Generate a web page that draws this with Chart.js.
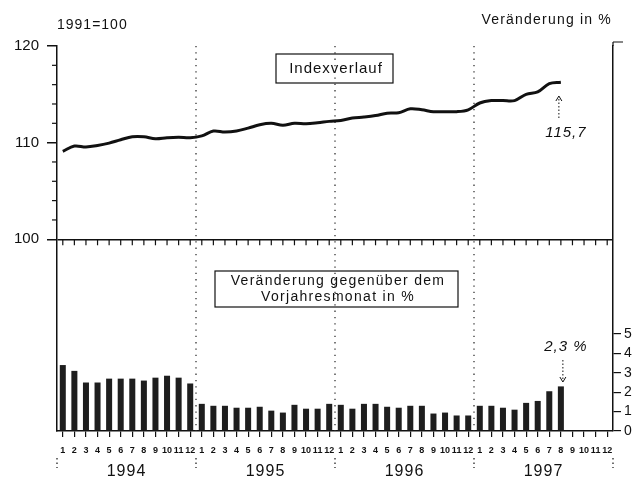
<!DOCTYPE html>
<html lang="de">
<head>
<meta charset="utf-8">
<title>Preisindex 1994-1997</title>
<script src="https://cdn.jsdelivr.net/npm/chart.js"></script>
<style>
  body { margin: 0; background: #fff; }
  #wrap { width: 639px; height: 480px; }
</style>
</head>
<body>
<div id="wrap"><canvas id="chart" width="639" height="480"></canvas></div>
<script>
  // months 1..12 for 1994-1997
  const years = ['1994', '1995', '1996', '1997'];
  const months = ['1','2','3','4','5','6','7','8','9','10','11','12'];
  const labels = years.flatMap(() => months);

  // Index 1991=100
  const indexValues = [
    109.1, 109.65, 109.55, 109.7, 109.95, 110.3, 110.6, 110.6, 110.4, 110.5, 110.55, 110.5,
    110.7, 111.2, 111.1, 111.2, 111.5, 111.85, 112.0, 111.8, 112.0, 111.95, 112.05, 112.2,
    112.3, 112.55, 112.65, 112.8, 113.05, 113.1, 113.5, 113.4, 113.2, 113.2, 113.2, 113.4,
    114.1, 114.35, 114.35, 114.35, 115.0, 115.25, 116.1, 116.25
  ];
  // Veränderung gegenüber dem Vorjahresmonat in %
  const changeValues = [
    3.4, 3.1, 2.5, 2.5, 2.7, 2.7, 2.7, 2.6, 2.75, 2.85, 2.75, 2.45,
    1.4, 1.3, 1.3, 1.2, 1.2, 1.25, 1.05, 0.95, 1.35, 1.15, 1.15, 1.4,
    1.35, 1.15, 1.4, 1.4, 1.25, 1.2, 1.3, 1.3, 0.9, 0.95, 0.8, 0.8,
    1.3, 1.3, 1.2, 1.1, 1.45, 1.55, 2.05, 2.3
  ];
  const indexTicks = [100, 110, 120];
  const indexMinorTicks = [102, 104, 106, 108, 112, 114, 116, 118];
  const changeTicks = [0, 1, 2, 3, 4, 5];

  const FONT = "'Liberation Sans', Arial, sans-serif";
  const INK = '#111';

  function spaced(ctx, text, x, y, spacing) {
    ctx.letterSpacing = spacing + 'px';
    ctx.fillText(text, x, y);
    ctx.letterSpacing = '0px';
  }

  const decor = {
    id: 'decor',
    beforeDatasetsDraw(chart) {
      const { ctx, chartArea: a, scales: { x } } = chart;
      ctx.save();
      ctx.strokeStyle = '#333';
      ctx.lineWidth = 1.3;
      ctx.setLineDash([1.3, 5]);
      for (let y = 1; y < years.length; y++) {
        const px = (x.getPixelForValue(y * 12 - 1) + x.getPixelForValue(y * 12)) / 2;
        ctx.beginPath();
        ctx.moveTo(px, a.top);
        ctx.lineTo(px, a.bottom);
        ctx.stroke();
      }
      ctx.restore();
    },
    afterDraw(chart) {
      const { ctx, chartArea: a, scales: { x, yIdx } } = chart;
      ctx.save();
      ctx.strokeStyle = INK;
      ctx.fillStyle = INK;

      // month ticks under the 100 line
      const y100 = yIdx.getPixelForValue(100);
      ctx.lineWidth = 1.2;
      for (let i = 0; i < labels.length; i++) {
        const px = x.getPixelForValue(i);
        ctx.beginPath();
        ctx.moveTo(px, y100);
        ctx.lineTo(px, y100 + 6);
        ctx.stroke();
      }
      // minor ticks on left axis
      indexMinorTicks.forEach(v => {
        const py = yIdx.getPixelForValue(v);
        ctx.beginPath();
        ctx.moveTo(a.left - 5, py);
        ctx.lineTo(a.left, py);
        ctx.stroke();
      });
      // cap on right axis
      ctx.beginPath();
      ctx.moveTo(a.right, a.top - 4);
      ctx.lineTo(a.right, a.top);
      ctx.moveTo(a.right, a.top - 4);
      ctx.lineTo(a.right + 10, a.top - 4);
      ctx.stroke();

      // year labels and separators
      ctx.font = '16px ' + FONT;
      ctx.textAlign = 'center';
      ctx.textBaseline = 'middle';
      ctx.setLineDash([1.5, 3]);
      for (let y = 0; y <= years.length; y++) {
        let px;
        if (y === 0) px = a.left;
        else if (y === years.length) px = a.right;
        else px = (x.getPixelForValue(y * 12 - 1) + x.getPixelForValue(y * 12)) / 2;
        ctx.beginPath();
        ctx.moveTo(px, 458);
        ctx.lineTo(px, 468);
        ctx.stroke();
      }
      ctx.setLineDash([]);
      years.forEach((yr, i) => {
        const px = (x.getPixelForValue(i * 12) + x.getPixelForValue(i * 12 + 11)) / 2;
        spaced(ctx, yr, px, 472, 1);
      });

      // header texts
      ctx.font = '14px ' + FONT;
      ctx.textAlign = 'left';
      spaced(ctx, '1991=100', 57, 25, 1);
      ctx.textAlign = 'right';
      spaced(ctx, 'Veränderung in %', 612, 20, 1.2);

      // boxes
      ctx.lineWidth = 1.2;
      ctx.strokeRect(276, 54, 117, 29);
      ctx.strokeRect(215, 271, 243, 36);
      ctx.textAlign = 'center';
      ctx.font = '15px ' + FONT;
      spaced(ctx, 'Indexverlauf', 336, 69, 1);
      ctx.font = '14px ' + FONT;
      spaced(ctx, 'Veränderung gegenüber dem', 338, 281, 1.3);
      spaced(ctx, 'Vorjahresmonat in %', 338, 297, 1.3);

      // annotations
      const last = indexValues.length - 1;
      const lx = x.getPixelForValue(last);
      ctx.font = 'italic 15px ' + FONT;
      spaced(ctx, '115,7', lx + 5, 133, 1);
      spaced(ctx, '2,3 %', lx + 5, 347, 1);
      ctx.lineWidth = 1;
      ctx.setLineDash([1.5, 2]);
      ctx.beginPath();
      ctx.moveTo(lx - 2, 118);
      ctx.lineTo(lx - 2, 98);
      ctx.moveTo(lx + 2, 360);
      ctx.lineTo(lx + 2, 380);
      ctx.stroke();
      ctx.setLineDash([]);
      ctx.beginPath();
      ctx.moveTo(lx - 5, 101); ctx.lineTo(lx - 2, 96); ctx.lineTo(lx + 1, 101);
      ctx.moveTo(lx - 1, 377); ctx.lineTo(lx + 2, 382); ctx.lineTo(lx + 5, 377);
      ctx.stroke();
      ctx.restore();
    }
  };

  new Chart(document.getElementById('chart'), {
    data: {
      labels: labels,
      datasets: [
        {
          type: 'line',
          label: 'Index',
          data: indexValues,
          yAxisID: 'yIdx',
          borderColor: INK,
          borderWidth: 3,
          pointRadius: 0,
          tension: 0.35,
          fill: false
        },
        {
          type: 'bar',
          label: 'Veränderung',
          data: changeValues,
          yAxisID: 'yPct',
          backgroundColor: '#1e1e1e',
          barPercentage: 0.52,
          categoryPercentage: 1
        }
      ]
    },
    options: {
      responsive: false,
      animation: false,
      devicePixelRatio: 1,
      layout: { padding: { top: 46, left: 0, right: 0, bottom: 0 } },
      plugins: { legend: { display: false }, tooltip: { enabled: false } },
      scales: {
        x: {
          type: 'category',
          offset: true,
          afterFit: s => { s.height = 49; },
          grid: { drawOnChartArea: false, offset: false, tickLength: 6, color: INK, lineWidth: 1.2 },
          border: { color: INK, width: 1.5 },
          ticks: {
            autoSkip: false, maxRotation: 0, padding: 8,
            color: INK, font: { family: FONT, size: 9, weight: 'bold' }
          }
        },
        yIdx: {
          type: 'linear',
          position: 'left',
          min: 80.16,
          max: 120,
          afterFit: s => { s.width = 57; },
          afterBuildTicks: s => { s.ticks = indexTicks.map(v => ({ value: v })); },
          grid: {
            drawOnChartArea: true,
            color: c => (c.tick && c.tick.value === 100) ? INK : 'rgba(0,0,0,0)',
            tickColor: INK,
            lineWidth: 1.5,
            tickLength: 10
          },
          border: { color: INK, width: 1.5 },
          ticks: { padding: 8, color: INK, font: { family: FONT, size: 15 } }
        },
        yPct: {
          type: 'linear',
          position: 'right',
          min: 0,
          max: 19.85,
          afterFit: s => { s.width = 26; },
          afterBuildTicks: s => { s.ticks = changeTicks.map(v => ({ value: v })); },
          grid: { drawOnChartArea: false, tickLength: 8, color: INK, lineWidth: 1.2 },
          border: { color: INK, width: 1.5 },
          ticks: { padding: 3, color: INK, font: { family: FONT, size: 14 } }
        }
      }
    },
    plugins: [decor]
  });
</script>
</body>
</html>
